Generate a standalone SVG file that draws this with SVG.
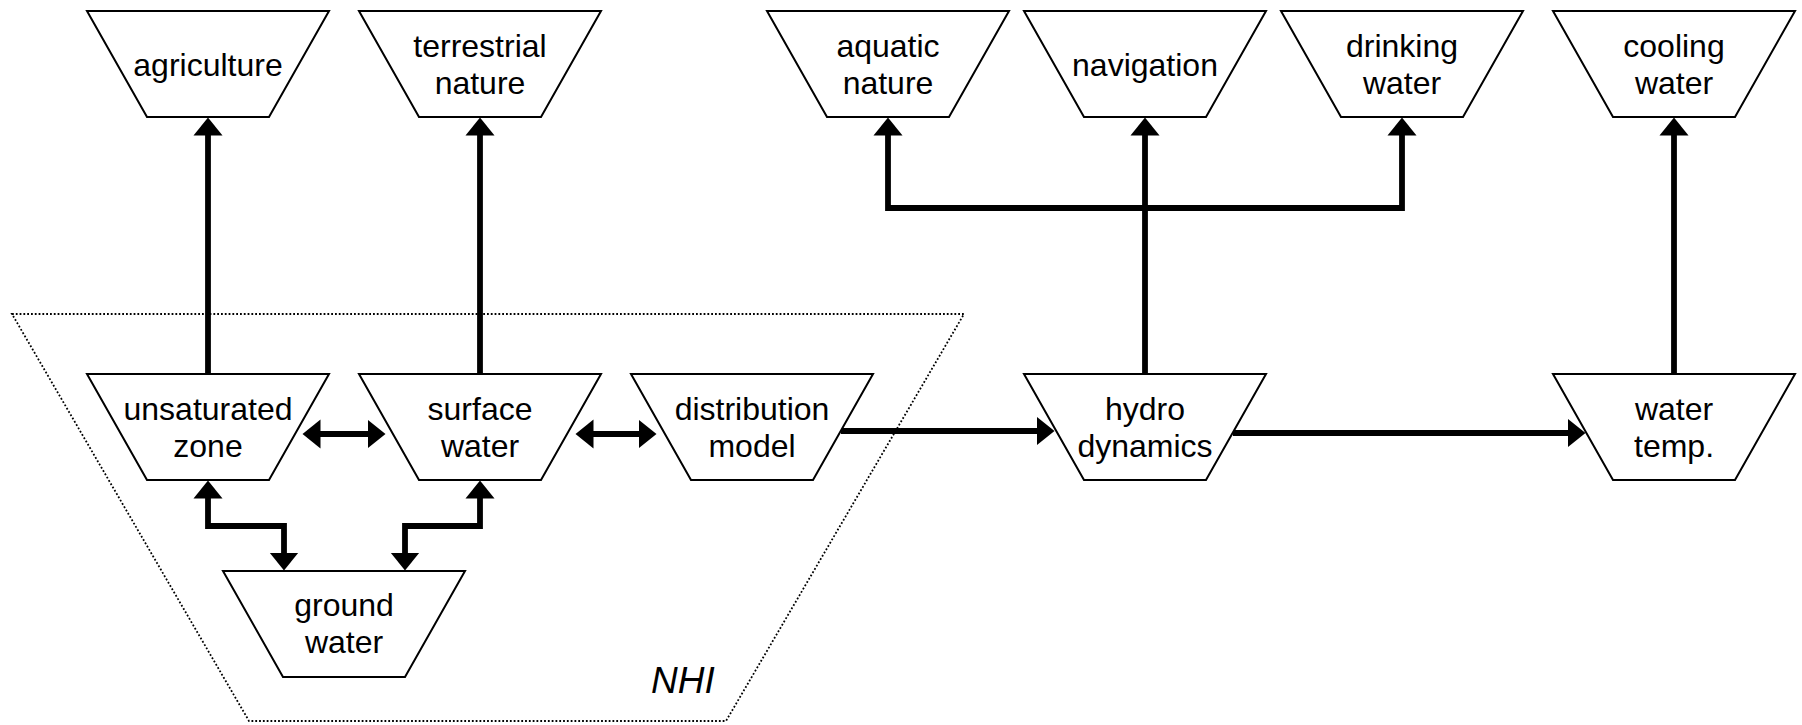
<svg xmlns="http://www.w3.org/2000/svg" width="1802" height="725" viewBox="0 0 1802 725">
<style>
.node{fill:#fff;stroke:#000;stroke-width:2;stroke-linejoin:miter}
.lbl{font-family:"Liberation Sans",Arial,sans-serif;font-size:32px;fill:#000;text-anchor:middle}
.con{fill:none;stroke:#000;stroke-width:5.8;stroke-linejoin:miter;stroke-linecap:butt}
.nhi{fill:none;stroke:#000;stroke-width:1.8;stroke-dasharray:1.8 2}
</style>
<defs>
<marker id="ah" markerUnits="userSpaceOnUse" markerWidth="19" markerHeight="30" viewBox="0 0 19 30" refX="0.5" refY="15" orient="auto-start-reverse">
<path d="M0,0.5 L18,15 L0,29.5 z" fill="#000"/>
</marker>
</defs>
<g id="nhi-boundary">
<polygon class="nhi" points="12,314 964,314 726,721 249,721"/>
<text x="651" y="693" style="font-family:'Liberation Sans',Arial,sans-serif;font-size:37px;font-style:italic;fill:#000">NHI</text>
</g>
<g id="connectors">
<path class="con" marker-end="url(#ah)" d="M208,374 L208,135"/>
<path class="con" marker-end="url(#ah)" d="M480,374 L480,135"/>
<path class="con" marker-end="url(#ah)" d="M1145,374 L1145,135"/>
<path class="con" marker-start="url(#ah)" marker-end="url(#ah)" d="M888,135 L888,208 L1402,208 L1402,135"/>
<path class="con" marker-end="url(#ah)" d="M1674,374 L1674,135"/>
<path class="con" marker-start="url(#ah)" marker-end="url(#ah)" d="M320,434 L368,434"/>
<path class="con" marker-start="url(#ah)" marker-end="url(#ah)" d="M593,434 L639,434"/>
<path class="con" marker-end="url(#ah)" d="M841,431 L1037,431"/>
<path class="con" marker-end="url(#ah)" d="M1233,433 L1568,433"/>
<path class="con" marker-start="url(#ah)" marker-end="url(#ah)" d="M208,498 L208,526 L284,526 L284,553"/>
<path class="con" marker-start="url(#ah)" marker-end="url(#ah)" d="M480,498 L480,526 L405,526 L405,553"/>
</g>
<g id="agriculture">
<polygon class="node" points="87,11 329,11 269,117 147,117"/>
<text class="lbl" x="208" y="76">agriculture</text>
</g>
<g id="terrestrial-nature">
<polygon class="node" points="359,11 601,11 541,117 419,117"/>
<text class="lbl" x="480" y="57">terrestrial</text>
<text class="lbl" x="480" y="94">nature</text>
</g>
<g id="aquatic-nature">
<polygon class="node" points="767,11 1009,11 949,117 827,117"/>
<text class="lbl" x="888" y="57">aquatic</text>
<text class="lbl" x="888" y="94">nature</text>
</g>
<g id="navigation">
<polygon class="node" points="1024,11 1266,11 1206,117 1084,117"/>
<text class="lbl" x="1145" y="76">navigation</text>
</g>
<g id="drinking-water">
<polygon class="node" points="1281,11 1523,11 1463,117 1341,117"/>
<text class="lbl" x="1402" y="57">drinking</text>
<text class="lbl" x="1402" y="94">water</text>
</g>
<g id="cooling-water">
<polygon class="node" points="1553,11 1795,11 1735,117 1613,117"/>
<text class="lbl" x="1674" y="57">cooling</text>
<text class="lbl" x="1674" y="94">water</text>
</g>
<g id="unsaturated-zone">
<polygon class="node" points="87,374 329,374 269,480 147,480"/>
<text class="lbl" x="208" y="420">unsaturated</text>
<text class="lbl" x="208" y="457">zone</text>
</g>
<g id="surface-water">
<polygon class="node" points="359,374 601,374 541,480 419,480"/>
<text class="lbl" x="480" y="420">surface</text>
<text class="lbl" x="480" y="457">water</text>
</g>
<g id="distribution-model">
<polygon class="node" points="631,374 873,374 813,480 691,480"/>
<text class="lbl" x="752" y="420">distribution</text>
<text class="lbl" x="752" y="457">model</text>
</g>
<g id="hydro-dynamics">
<polygon class="node" points="1024,374 1266,374 1206,480 1084,480"/>
<text class="lbl" x="1145" y="420">hydro</text>
<text class="lbl" x="1145" y="457">dynamics</text>
</g>
<g id="water-temp">
<polygon class="node" points="1553,374 1795,374 1735,480 1613,480"/>
<text class="lbl" x="1674" y="420">water</text>
<text class="lbl" x="1674" y="457">temp.</text>
</g>
<g id="ground-water">
<polygon class="node" points="223,571 465,571 405,677 283,677"/>
<text class="lbl" x="344" y="616">ground</text>
<text class="lbl" x="344" y="653">water</text>
</g>
</svg>
